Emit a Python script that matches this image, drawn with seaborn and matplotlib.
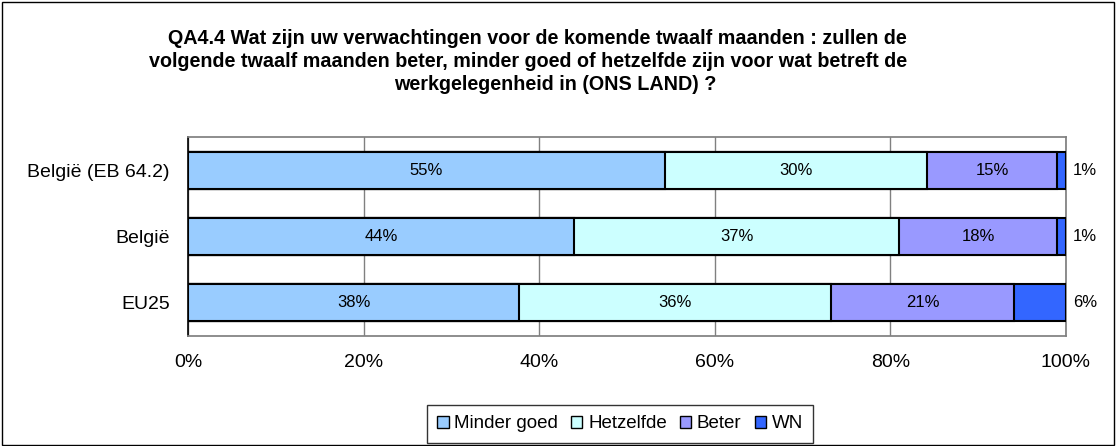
import numpy as np
import pandas as pd
import matplotlib.pyplot as plt
import seaborn as sns
from matplotlib.patches import Rectangle, Patch

sns.set_theme(style="white")
plt.rcParams['font.family'] = ['Liberation Sans', 'DejaVu Sans']
plt.rcParams['text.color'] = 'black'
plt.rcParams['xtick.color'] = 'black'
plt.rcParams['ytick.color'] = 'black'

# data
groups = ['België (EB 64.2)', 'België', 'EU25']
series = ['Minder goed', 'Hetzelfde', 'Beter', 'WN']
minder_goed = [54.3, 44.0, 37.7]
hetzelfde = [29.9, 37.0, 35.5]
beter = [14.8, 18.0, 20.9]
wn = [1.0, 1.0, 5.9]
labels = [['55%', '30%', '15%', '1%'],
          ['44%', '37%', '18%', '1%'],
          ['38%', '36%', '21%', '6%']]
colors = ['#99CCFF', '#CCFFFF', '#9999FF', '#3366FF']
title_lines = ['QA4.4 Wat zijn uw verwachtingen voor de komende twaalf maanden : zullen de',
               'volgende twaalf maanden beter, minder goed of hetzelfde zijn voor wat betreft de',
               'werkgelegenheid in (ONS LAND) ?']

df = pd.DataFrame({'group': groups, 'Minder goed': minder_goed,
                   'Hetzelfde': hetzelfde, 'Beter': beter, 'WN': wn})
cum = df[series].cumsum(axis=1)

fig = plt.figure(figsize=(11.16, 4.46), dpi=100)
ax = fig.add_axes([188 / 1116, 1 - 336 / 446, 878 / 1116, 199 / 446])

# stacked bars: draw cumulative totals from the back
for s, c in reversed(list(zip(series, colors))):
    sns.barplot(x=cum[s], y=df['group'], color=c, orient='h', width=0.56,
                edgecolor='black', linewidth=1.5, saturation=1, ax=ax, zorder=3)

for i in range(len(groups)):
    left = 0
    for j, s in enumerate(series):
        v = df.loc[i, s]
        if j < 3:
            ax.text(left + v / 2, i, labels[i][j], ha='center', va='center',
                    fontsize=12, zorder=4)
        else:
            ax.text(100.8, i, labels[i][j], ha='left', va='center',
                    fontsize=12, zorder=4)
        left += v

ax.set_xlim(0, 100)
ax.set_ylim(2.5, -0.5)
ax.set_xticks(np.arange(0, 101, 20))
ax.set_xticklabels([f'{t}%' for t in range(0, 101, 20)], fontsize=14)
ax.set_yticks(range(3))
ax.set_yticklabels(groups, fontsize=14)
ax.set_yticks([-0.5, 0.5, 1.5, 2.5], minor=True)
ax.tick_params(axis='y', which='major', length=0, pad=13)
ax.tick_params(axis='y', which='minor', length=5, color='black', direction='out', width=1)
ax.tick_params(axis='x', length=5, color='#808080', direction='out', width=1, pad=8)
ax.set_xlabel('')
ax.set_ylabel('')
ax.grid(axis='x', color='#808080', linewidth=1, zorder=0)
ax.set_axisbelow(True)
for side in ['top', 'right', 'bottom']:
    ax.spines[side].set_color('#808080')
ax.spines['left'].set_color('black')
ax.spines['left'].set_linewidth(1.2)

for line, cx, by in zip(title_lines, [537, 528, 555], [44, 67, 90]):
    fig.text(cx / 1116, 1 - by / 446, line, ha='center', va='baseline',
             fontsize=14.2, fontweight='bold')

handles = [Patch(facecolor=c, edgecolor='black', label=s) for s, c in zip(series, colors)]
leg = fig.legend(handles=handles, loc='center', bbox_to_anchor=(620 / 1116, 1 - 424 / 446),
                 ncol=4, frameon=True, fontsize=13.5, handlelength=0.6, handleheight=0.6,
                 handletextpad=0.3, columnspacing=0.7, borderpad=0.55, borderaxespad=0,
                 fancybox=False)
leg.get_frame().set_edgecolor('black')
leg.get_frame().set_linewidth(1)

fig.patches.append(Rectangle((2 / 1116, 1 / 446), 1 - 4 / 1116, 1 - 3 / 446,
                             transform=fig.transFigure, fill=False,
                             edgecolor='black', linewidth=1))

fig.savefig('out.png', dpi=100)
